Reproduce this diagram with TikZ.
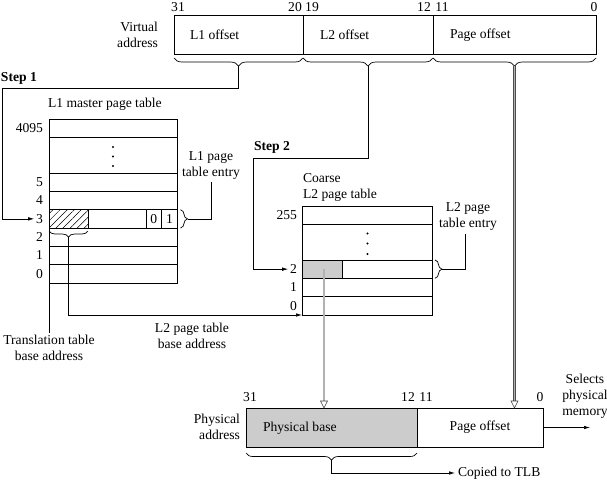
\documentclass[tikz,border=0pt]{standalone}
\usepackage{fontspec}
\setmainfont{Liberation Serif}
\usetikzlibrary{arrows.meta,decorations.pathreplacing,patterns.meta,calc}
\begin{document}
\begin{tikzpicture}[x=1pt,y=-1pt,
  font=\fontsize{13.6}{16}\selectfont,
  line width=0.7pt,
  txt/.style={inner sep=0pt, outer sep=0pt},
  field/.style={draw, minimum height=39pt, inner sep=0pt, outer sep=0pt, anchor=north west},
  tabrow/.style={draw, minimum width=128.5pt, inner sep=0pt, outer sep=0pt, anchor=north west},
  ar/.style={-{Latex[length=6pt,width=3.5pt]}},
  brc/.style={decorate, decoration={brace, amplitude=#1}},
  brc/.default=8pt,
  dbl/.style={draw=black!70, double=gray!60, double distance=1.2pt, line width=0.6pt},
  opentip/.style={draw=black!75, fill=white, line width=0.6pt},
  dot/.style={fill=black, circle, inner sep=0pt, minimum size=2.2pt}
]
\useasboundingbox (0,0) rectangle (607,482);

% ---------- Virtual address ----------
\node[field, minimum width=129pt] (va1) at (174,15) {};
\node[field, minimum width=130pt] (va2) at (303,15) {};
\node[field, minimum width=163pt] (va3) at (433,15) {};
\node[txt, anchor=west] (t1) at (190,35) {L1 offset};
\node[txt, anchor=west] (t2) at (320,35) {L2 offset};
\node[txt, anchor=west] (t3) at (450,35) {Page offset};
\node[txt, align=right, anchor=east] (vat) at (158,35) {Virtual\\address};
\foreach \x/\b in {178/31,295/20,312/19,424/12,442/11,594/0}
  \node[txt] at (\x,7) {\b};

% braces under virtual address
\draw[brc] (303,58) -- (174,58) coordinate[midway] (m1);
\draw[brc] (433,58) -- (303,58) coordinate[midway] (m2);
\draw[brc] (596,58) -- (433,58) coordinate[midway] (m3);
\coordinate (tip1) at ($(m1)+(0,8)$);
\coordinate (tip2) at ($(m2)+(0,8)$);
\coordinate (tip3) at ($(m3)+(0,8)$);

% ---------- L1 master page table ----------
\node[txt, font=\fontsize{13.6}{16}\selectfont\bfseries, anchor=west] (s1) at (1,78) {Step 1};
\node[txt, anchor=west] (l1title) at (48,104) {L1 master page table};
\node[tabrow, minimum height=18.3pt] (a4095) at (49,119) {};
\node[tabrow, minimum height=35.7pt] (adots) at (49,137.3) {};
\node[tabrow, minimum height=18.3pt] (a5) at (49,173) {};
\node[tabrow, minimum height=18.3pt] (a4) at (49,191.3) {};
\node[tabrow, minimum height=18.3pt] (a3) at (49,209.7) {};
\node[tabrow, minimum height=18.3pt] (a2) at (49,228) {};
\node[tabrow, minimum height=18.3pt] (a1) at (49,246.3) {};
\node[tabrow, minimum height=18.3pt] (a0) at (49,264.7) {};
\foreach \y in {147,156.5,166} \node[dot] at (113,\y) {};
% hatched field and flag cells in row 3
\draw[pattern={Lines[angle=45,distance=5pt,line width=0.5pt]}] (a3.north west) rectangle ($(a3.south west)+(39,0)$);
\draw (146,209.7) -- (146,228) (161.5,209.7) -- (161.5,228);
\node[txt] at (153.8,219) {0};
\node[txt] at (169.5,219) {1};
\foreach \r/\l in {a4095/4095,a5/5,a4/4,a3/3,a2/2,a1/1,a0/0}
  \node[txt, anchor=east] (lab\r) at ($(\r.west)+(-6,0)$) {\l};

% Step 1 connector
\draw[ar] (tip1) |- (2,88) |- ($(laba3.west)+(-2,0)$);

% L1 page table entry
\draw[brc=7pt] ($(a3.north east)+(3,0)$) -- ($(a3.south east)+(3,0)$) coordinate[midway] (m4);
\node[txt, align=center] (l1e) at (211,165) {L1 page\\table entry};
\draw ($(m4)+(7,0)$) -| ($(l1e.south)+(0,3)$);

% brace under hatched field
\draw[brc=6pt] ($(a3.south west)+(39,3)$) -- ($(a3.south west)+(0,3)$) coordinate[midway] (m5);
\coordinate (tip5) at ($(m5)+(0,6)$);

% Translation table base address
\node[txt, align=center] (ttb) at (49,348) {Translation table\\base address};
\draw (a0.south west) -- ($(ttb.north)+(0,-2)$);
\node[txt, align=center] (l2b) at (192,336) {L2 page table\\base address};

% ---------- Coarse L2 page table ----------
\node[txt, font=\fontsize{13.6}{16}\selectfont\bfseries, anchor=west] (s2) at (254,147) {Step 2};
\node[txt, align=left, anchor=west] (l2title) at (303,187) {Coarse\\L2 page table};
\node[tabrow, minimum width=130pt, minimum height=18.3pt] (b255) at (302,206) {};
\node[tabrow, minimum width=130pt, minimum height=35.7pt] (bdots) at (302,224.3) {};
\node[tabrow, minimum width=130pt, minimum height=18.3pt] (b2) at (302,260) {};
\node[tabrow, minimum width=130pt, minimum height=18.3pt] (b1) at (302,278.3) {};
\node[tabrow, minimum width=130pt, minimum height=18.3pt] (b0) at (302,296.7) {};
\foreach \y in {233.5,243.5,254} \node[dot] at (367.5,\y) {};
\draw[fill=gray!40] (b2.north west) rectangle ($(b2.south west)+(40,0)$);
\coordinate (gcell) at ($(b2.west)+(22,0)$);
\foreach \r/\l in {b255/255,b2/2,b1/1,b0/0}
  \node[txt, anchor=east] (lab\r) at ($(\r.west)+(-5,0)$) {\l};

% Step 2 connector
\draw[ar] (tip2) |- (253,158) |- ($(labb2.west)+(-2,0)$);

% L2 base address connector
\draw[ar] (tip5) |- (b0.south west);

% L2 page table entry
\draw[brc=7pt] ($(b2.north east)+(3,0)$) -- ($(b2.south east)+(3,0)$) coordinate[midway] (m6);
\node[txt, align=center] (l2e) at (468,216) {L2 page\\table entry};
\draw ($(m6)+(7,0)$) -| ($(l2e.south)+(-3,4)$);

% ---------- Physical address ----------
\node[field, minimum width=171pt, fill=gray!40] (pa1) at (246,408) {};
\node[field, minimum width=126pt] (pa2) at (417,408) {};
\node[txt, anchor=west] at (263,428) {Physical base};
\node[txt] at (pa2.center) {Page offset};
\node[txt, align=right, anchor=east] (pat) at (240,427) {Physical\\address};
\foreach \x/\b in {250/31,408/12,426/11,540/0}
  \node[txt] at (\x,397) {\b};
\node[txt, align=center] (sel) at (585,396) {Selects\\physical\\memory};
\draw[ar] (pa2.east) -- ++(47,0) coordinate (selend);

% double arrows into physical address
\coordinate (pbtop) at (pa1.north -| gcell);
\coordinate (potop) at (pa2.north -| tip3);
\draw[dbl] (gcell) -- ($(pbtop)+(0,-6)$);
\draw[opentip] ($(pbtop)+(-3.5,-7)$) -- ($(pbtop)+(3.5,-7)$) -- (pbtop) -- cycle;
\draw[dbl] (tip3) -- ($(potop)+(0,-6)$);
\draw[opentip] ($(potop)+(-3.5,-7)$) -- ($(potop)+(3.5,-7)$) -- (potop) -- cycle;

% Copied to TLB
\draw[brc=7pt] ($(pa1.south east)+(0,6)$) -- ($(pa1.south west)+(0,6)$) coordinate[midway] (m7);
\node[txt, anchor=west] (tlb) at (458,473) {Copied to TLB};
\draw[ar] ($(m7)+(0,7)$) |- ($(tlb.west)+(-3,0)$);
\end{tikzpicture}
\end{document}
